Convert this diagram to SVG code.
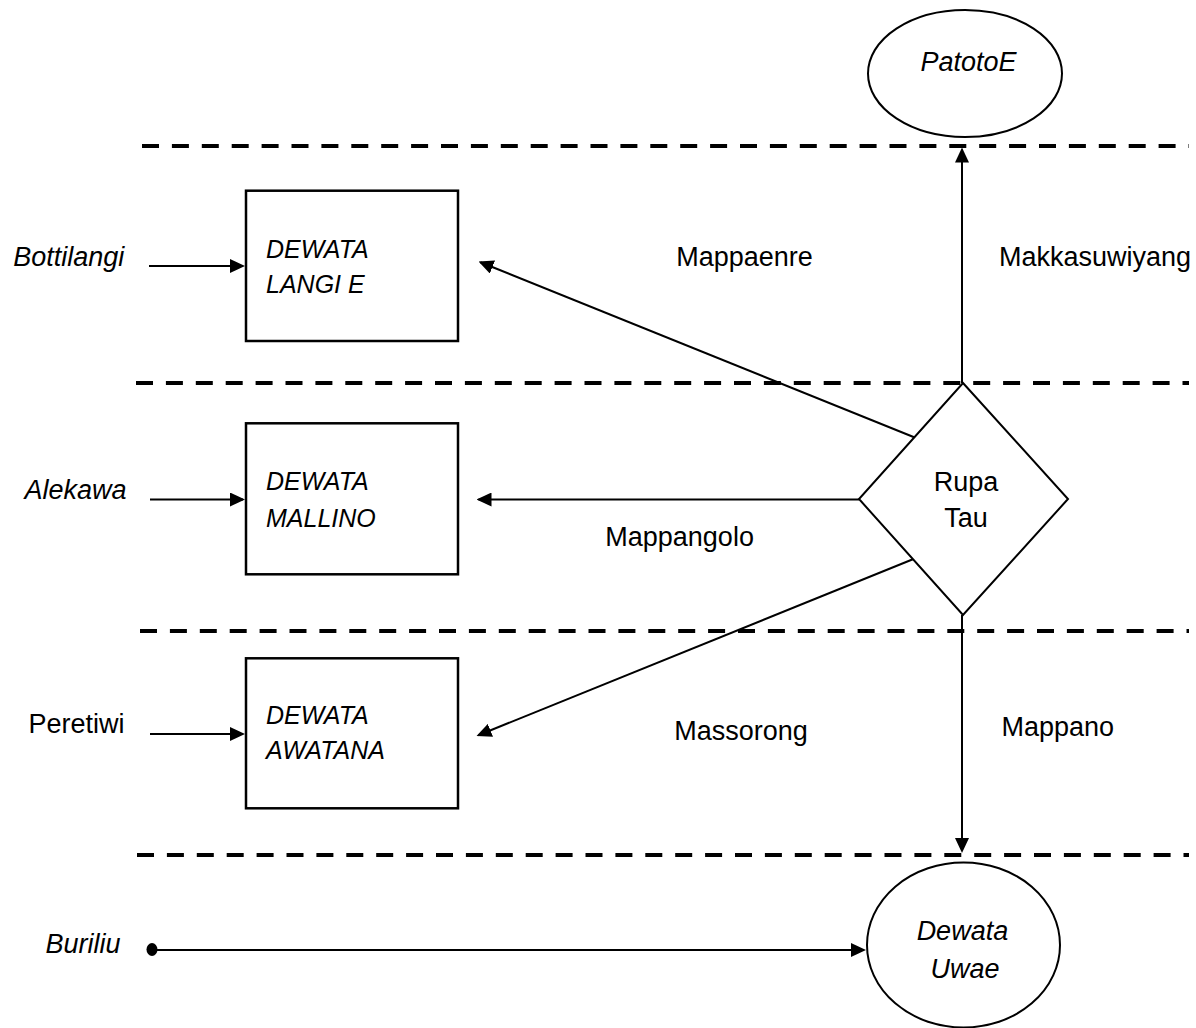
<svg xmlns="http://www.w3.org/2000/svg" width="1196" height="1028" viewBox="0 0 1196 1028">
  <style>
    text { font-family: "Liberation Sans", Arial, sans-serif; font-size: 27px; fill: #000; }
    .it { font-style: italic; }
    .mid { text-anchor: middle; }
    .cap { font-size: 25px; }
    .lane { stroke: #000; stroke-width: 4; stroke-dasharray: 17 12.9; fill: none; }
    .box { fill: #fff; stroke: #000; stroke-width: 2.5; }
    .shape { fill: #fff; stroke: #000; stroke-width: 2; }
    .link { stroke: #000; stroke-width: 2; fill: none; marker-end: url(#arrow); }
  </style>
  <defs>
    <marker id="arrow" viewBox="0 0 15 14" refX="13" refY="7" markerWidth="15" markerHeight="14" markerUnits="userSpaceOnUse" orient="auto">
      <path d="M0,0 L15,7 L0,14 z" fill="#000"/>
    </marker>
  </defs>

  <!-- lane separators -->
  <g id="lanes">
    <line class="lane" x1="142" y1="146" x2="1189" y2="146"/>
    <line class="lane" x1="136" y1="383" x2="1189" y2="383"/>
    <line class="lane" x1="140" y1="631" x2="1189" y2="631"/>
    <line class="lane" x1="137" y1="855" x2="1189" y2="855"/>
  </g>

  <!-- connectors -->
  <g id="connectors">
    <line class="link" x1="149" y1="266" x2="243" y2="266"/>
    <line class="link" x1="150" y1="499.5" x2="243" y2="499.5"/>
    <line class="link" x1="150" y1="734" x2="243" y2="734"/>
    <line class="link" x1="916" y1="438" x2="480.4" y2="262.2"/>
    <line class="link" x1="859" y1="499.5" x2="478.5" y2="499.5"/>
    <line class="link" x1="913.5" y1="559" x2="478.4" y2="735.25"/>
    <line class="link" x1="962" y1="383" x2="962" y2="149.5"/>
    <line class="link" x1="962" y1="615" x2="962" y2="851"/>
    <ellipse cx="152" cy="949.5" rx="5.5" ry="6.5" fill="#000"/>
    <line class="link" x1="152" y1="950" x2="864" y2="950" stroke-width="2.5"/>
    <text class="mid" x="744.5" y="266">Mappaenre</text>
    <text class="mid" x="1095" y="266">Makkasuwiyang</text>
    <text class="mid" x="679.6" y="545.7">Mappangolo</text>
    <text class="mid" x="741" y="740">Massorong</text>
    <text class="mid" x="1057.7" y="735.7">Mappano</text>
  </g>

  <!-- sources -->
  <g id="src-bottilangi"><text class="it mid" x="68.8" y="266">Bottilangi</text></g>
  <g id="src-alekawa"><text class="it mid" x="75.5" y="499">Alekawa</text></g>
  <g id="src-peretiwi"><text class="mid" x="76.4" y="732.7">Peretiwi</text></g>
  <g id="src-buriliu"><text class="it mid" x="83" y="952.7">Buriliu</text></g>

  <!-- deity boxes -->
  <g id="dewata-langi">
    <rect class="box" x="246" y="190.7" width="212" height="150.3"/>
    <text class="it cap" x="266" y="258">DEWATA</text>
    <text class="it cap" x="266" y="293">LANGI E</text>
  </g>
  <g id="dewata-mallino">
    <rect class="box" x="246" y="423.3" width="212" height="151"/>
    <text class="it cap" x="266" y="490">DEWATA</text>
    <text class="it cap" x="266" y="526.7">MALLINO</text>
  </g>
  <g id="dewata-awatana">
    <rect class="box" x="246" y="658.3" width="212" height="150"/>
    <text class="it cap" x="266" y="724">DEWATA</text>
    <text class="it cap" x="266" y="759">AWATANA</text>
  </g>

  <!-- central diamond -->
  <g id="rupa-tau">
    <path class="shape" d="M963,383 L1068,499 L963,615 L859,499 z"/>
    <text class="mid" x="966" y="490.7">Rupa</text>
    <text class="mid" x="966" y="526.7">Tau</text>
  </g>

  <!-- upper and lower realms -->
  <g id="patotoe">
    <ellipse class="shape" cx="965" cy="73.5" rx="97" ry="63.5"/>
    <text class="it mid" x="968.5" y="70.7">PatotoE</text>
  </g>
  <g id="dewata-uwae">
    <ellipse class="shape" cx="963.5" cy="945" rx="96.5" ry="82.5"/>
    <text class="it mid" x="962.4" y="940">Dewata</text>
    <text class="it mid" x="965" y="978">Uwae</text>
  </g>
</svg>
